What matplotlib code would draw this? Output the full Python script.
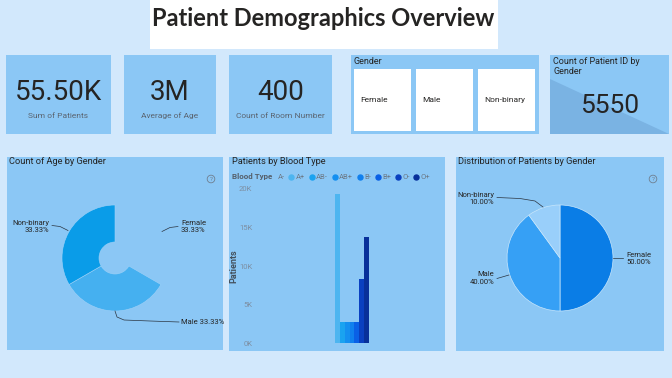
import matplotlib
matplotlib.use('Agg')
import matplotlib.pyplot as plt
from matplotlib.patches import Rectangle, Polygon, Circle
from matplotlib.lines import Line2D

# DATA
kpi_values = ['55.50K', '3M', '400']
kpi_labels = ['Sum of Patients', 'Average of Age', 'Count of Room Number']
genders = ['Female', 'Male', 'Non-binary']
patient_id_count = '5550'
age_share = [33.33, 33.33, 33.33]
patient_share = [50.0, 40.0, 10.0]
blood_types = ['A-', 'A+', 'AB-', 'AB+', 'B-', 'B+', 'O-', 'O+']
blood_patients = [0, 19350, 2720, 2720, 2720, 2720, 8330, 13820]
blood_ticks = [0, 5000, 10000, 15000, 20000]
blood_tick_labels = ['0K', '5K', '10K', '15K', '20K']

# STYLE
W, H = 672, 378
PAGE = '#d2e8fc'
PANEL = '#8bc7f5'
DARK = '#252423'
GREY = '#5a6470'
FONT = 'Roboto'
blood_colors = ['#8bc7f5', '#4db5f0', '#1aa3f0', '#148ff0', '#1080ee',
                '#0a60e6', '#0a40c0', '#08309a']

fig = plt.figure(figsize=(W / 100, H / 100), dpi=100)
fig.patch.set_facecolor(PAGE)

bg = fig.add_axes([0, 0, 1, 1])
bg.set_xlim(0, W)
bg.set_ylim(H, 0)
bg.axis('off')


def box(x0, y0, x1, y1, color):
    bg.add_patch(Rectangle((x0, y0), x1 - x0, y1 - y0, color=color, lw=0))


def px_axes(x0, y0, x1, y1, z=2):
    return fig.add_axes([x0 / W, 1 - y1 / H, (x1 - x0) / W, (y1 - y0) / H], zorder=z)


def help_icon(x, y):
    bg.add_patch(Circle((x, y), 3.8, fill=False, ec='#6f7f90', lw=0.6))
    bg.text(x, y + 0.3, '?', fontsize=4.5, color='#6f7f90', ha='center', va='center', family=FONT)


# TITLE
box(150, 0, 498, 49, 'white')
bg.text(323, 19, 'Patient Demographics Overview', fontsize=17, fontweight='bold',
        family='Lato', color=DARK, ha='center', va='center')

# KPI CARDS
cards = [(6, 111), (124, 216), (229, 332)]
for (x0, x1), v, lab in zip(cards, kpi_values, kpi_labels):
    box(x0, 55, x1, 134, PANEL)
    cx = (x0 + x1) / 2
    bg.text(cx, 93, v, fontsize=20, family=FONT, color=DARK, ha='center', va='center')
    bg.text(cx, 116, lab, fontsize=6, family=FONT, color=GREY, ha='center', va='center')

# GENDER SLICER
box(351, 55, 539, 134, PANEL)
bg.text(354, 61, 'Gender', fontsize=6.5, family=FONT, color=DARK, ha='left', va='center')
for i, g in enumerate(genders):
    x0 = 354 + i * 62
    box(x0, 69, x0 + 57, 131, 'white')
    bg.text(x0 + 6, 100, g, fontsize=6, family=FONT, color=DARK, ha='left', va='center')

# COUNT OF PATIENT ID CARD
box(550, 55, 669, 134, PANEL)
bg.add_patch(Polygon([(550, 79), (669, 134), (550, 134)], closed=True, color='#7ab3e3', lw=0))
bg.text(553, 61, 'Count of Patient ID by', fontsize=6.5, family=FONT, color=DARK, va='center')
bg.text(553, 71, 'Gender', fontsize=6.5, family=FONT, color=DARK, va='center')
bg.text(610, 106, patient_id_count, fontsize=19, family=FONT, color=DARK,
        ha='center', va='center')

# BOTTOM PANELS
box(7, 157, 223, 350, PANEL)
box(229, 157, 445, 351, PANEL)
box(456, 157, 664, 351, PANEL)
bg.text(9, 162, 'Count of Age by Gender', fontsize=6.7, family=FONT, color=DARK, va='center')
bg.text(232, 162, 'Patients by Blood Type', fontsize=6.7, family=FONT, color=DARK, va='center')
bg.text(458, 162, 'Distribution of Patients by Gender', fontsize=6.7, family=FONT,
        color=DARK, va='center')
help_icon(211, 179)
help_icon(653, 179)

# DONUT: COUNT OF AGE BY GENDER
cx, cy, R = 115, 258, 53
ax1 = px_axes(cx - R, cy - R, cx + R, cy + R)
wedges, _ = ax1.pie(age_share, startangle=90, counterclock=False,
                    colors=[PANEL, '#45b0f0', '#0a9ce8'],
                    wedgeprops=dict(width=37 / 53, edgecolor='#9fd1f7', linewidth=0.4))
wedges[0].set_visible(False)
ax1.set_xlim(-1, 1)
ax1.set_ylim(-1, 1)

fg = fig.add_axes([0, 0, 1, 1], zorder=5)
fg.set_xlim(0, W)
fg.set_ylim(H, 0)
fg.axis('off')
fg.patch.set_alpha(0)

lab_kw = dict(fontsize=5.5, family=FONT, color=DARK, va='center')
fg.text(49, 223, 'Non-binary', ha='right', **lab_kw)
fg.text(49, 230, f'{age_share[2]:.2f}%', ha='right', **lab_kw)
fg.text(181, 223, 'Female', ha='left', **lab_kw)
fg.text(181, 230, f'{age_share[0]:.2f}%', ha='left', **lab_kw)
fg.text(181, 322, f'Male {age_share[1]:.2f}%', ha='left', **lab_kw)
ln = dict(color='#2a3440', lw=0.5)
fg.plot([52, 60, 68], [225.5, 226.5, 230.5], **ln)
fg.plot([162, 170, 178], [231.5, 227.5, 226.5], **ln)
fg.plot([115, 117, 124, 150, 179], [311, 317, 320, 321, 322], **ln)

# BAR CHART: PATIENTS BY BLOOD TYPE
ax2 = px_axes(255, 189, 445, 343.3)
ax2.set_facecolor('none')
ax2.bar(range(len(blood_types)), blood_patients, width=1.0, color=blood_colors, lw=0)
ax2.set_xlim(-16, 23.2)
ax2.set_ylim(0, 20000)
ax2.set_yticks(blood_ticks)
ax2.set_yticklabels(blood_tick_labels, fontsize=5.5, color='#7d8fa3', family=FONT)
ax2.tick_params(axis='y', length=0, pad=2)
ax2.set_xticks([])
for s in ax2.spines.values():
    s.set_visible(False)
ax2.set_ylabel('Patients', fontsize=6.5, fontweight='bold', color='#44505c', family=FONT)
ax2.yaxis.set_label_coords(-0.085, 0.5)

bg.text(232, 177, 'Blood Type', fontsize=5.8, fontweight='bold', family=FONT,
        color='#55606c', va='center')
handles = [Line2D([], [], ls='none', marker='o', markersize=3.6, color=c, label=b)
           for b, c in zip(blood_types, blood_colors)]
leg = ax2.legend(handles=handles, ncol=8, loc='center left', frameon=False,
                 bbox_to_anchor=(271 / W, 1 - 177 / H), bbox_transform=fig.transFigure,
                 fontsize=5.5, handlelength=0.6, handletextpad=0.25, columnspacing=0.6,
                 borderpad=0, borderaxespad=0)
for t in leg.get_texts():
    t.set_color('#6c7a88')
    t.set_family(FONT)
leg.legend_handles[0].set_visible(False)

# PIE: DISTRIBUTION OF PATIENTS BY GENDER
cx, cy, R = 560, 258, 53
ax3 = px_axes(cx - R, cy - R, cx + R, cy + R)
ax3.pie(patient_share, startangle=90, counterclock=False,
        colors=['#0a7de6', '#36a0f5', '#99cffa'],
        wedgeprops=dict(edgecolor='#c8e6fb', linewidth=0.5))
ax3.set_xlim(-1, 1)
ax3.set_ylim(-1, 1)

fg.text(494, 194.5, 'Non-binary', ha='right', **lab_kw)
fg.text(494, 202, f'{patient_share[2]:.2f}%', ha='right', **lab_kw)
fg.text(494, 274.5, 'Male', ha='right', **lab_kw)
fg.text(494, 282, f'{patient_share[1]:.2f}%', ha='right', **lab_kw)
fg.text(626, 255, 'Female', ha='left', **lab_kw)
fg.text(626, 262, f'{patient_share[0]:.2f}%', ha='left', **lab_kw)
fg.plot([497, 520, 535, 543], [197.5, 198.5, 201, 207], **ln)
fg.plot([497, 509], [278.5, 275], **ln)
fg.plot([613, 623], [258, 258], **ln)

fig.savefig('out.png', dpi=100, facecolor=PAGE)
